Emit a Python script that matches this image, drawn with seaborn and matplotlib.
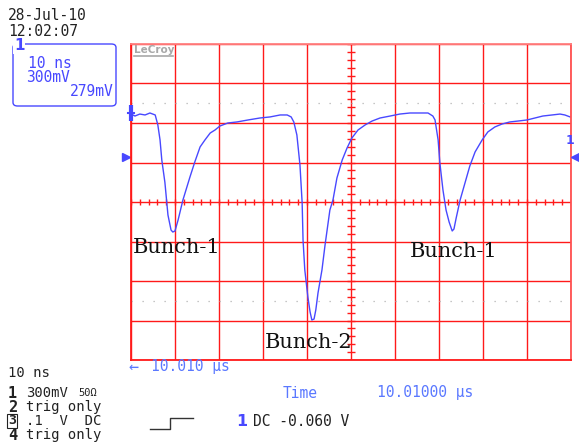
import numpy as np
import pandas as pd
import matplotlib
matplotlib.use("Agg")
import matplotlib.pyplot as plt
from matplotlib.patches import FancyBboxPatch
from matplotlib.lines import Line2D
import seaborn as sns

# ---------------- data (time in ns, amplitude in mV) ----------------
time_ns = [0.0, 0.9, 2.0, 3.2, 4.3, 5.5, 6.1, 6.6, 7.0, 7.7, 8.4, 9.1, 9.5, 10.0,
           10.7, 11.8, 13.4, 14.5, 15.7, 16.8, 18.0, 19.1, 20.2, 22.0, 24.1, 26.6,
           29.3, 31.6, 33.9, 35.5, 36.4, 37.0, 37.7, 38.4, 38.9, 39.1, 39.5, 40.2,
           40.7, 41.1, 41.6, 42.0, 42.5, 43.4, 44.1, 45.2, 45.9, 46.8, 48.0, 49.1,
           50.2, 51.6, 53.2, 54.8, 56.6, 58.9, 61.1, 63.4, 65.7, 67.5, 68.6, 69.1,
           69.8, 70.2, 70.9, 71.6, 72.3, 73.0, 73.4, 73.9, 74.8, 75.9, 77.0, 78.2,
           79.8, 81.1, 82.7, 84.3, 86.1, 88.0, 90.0, 91.8, 93.6, 95.7, 97.5, 98.6,
           99.8]
volt_mV = [668, 653, 668, 661, 676, 661, 585, 471, 319, 150, -99, -213, -228, -220,
           -137, 15, 190, 304, 418, 471, 524, 547, 577, 600, 608, 623,
           638, 646, 661, 661, 646, 608, 509, 281, -8, -289, -516, -722,
           -835, -896, -889, -820, -691, -516, -327, -61, 15, 182, 319, 410,
           486, 547, 585, 615, 638, 653, 668, 676, 676, 676, 653, 623,
           471, 296, 91, -61, -152, -220, -205, -122, 15, 144, 273, 380,
           471, 532, 570, 592, 608, 615, 623, 638, 653, 661, 668, 661,
           646]

labels = ["Bunch-1", "Bunch-2", "Bunch-1"]
label_t = [0.5, 30.5, 63.3]
label_v = [-345, -1065, -375]

df = pd.DataFrame({"t": time_ns, "v": volt_mV})

# ---------------- figure ----------------
W, H = 579, 443
fig = plt.figure(figsize=(W / 100, H / 100), dpi=100)
fig.patch.set_facecolor("white")
ax = fig.add_axes([131 / W, (H - 360) / H, 440 / W, 316 / H])
ax.set_facecolor("white")

RED = "#ff1a1a"
BLUE = "#4848ff"
LBLUE = "#5a78ff"
GRAY = "#b4b4b4"

ax.set_xlim(0, 100)
ax.set_ylim(-1200, 1200)
ax.set_xticks(np.arange(0, 101, 10))
ax.set_yticks(np.arange(-1200, 1201, 300))
ax.tick_params(length=0, labelbottom=False, labelleft=False)
ax.grid(True, color=RED, lw=1.0)
for s in ax.spines.values():
    s.set_color(RED)
    s.set_linewidth(1.3)
ax.spines["top"].set_color("#ff8080")
ax.spines["right"].set_color("#ff5050")

# center graticule tick marks
tx = np.arange(0, 100.01, 2)
ax.vlines(tx, -23, 23, color=RED, lw=1.0)
ty = np.arange(-1200, 1200.01, 60)
ax.hlines(ty, 49.2, 50.8, color=RED, lw=1.0)

# gray dotted cursor lines
for yv in (750, -750):
    ax.plot([0, 100], [yv, yv], color=GRAY, lw=0.9, ls=(0, (1, 7.8)))

# trace
sns.lineplot(data=df, x="t", y="v", ax=ax, color=BLUE, lw=1.0,
             estimator=None, sort=False, legend=False)
ax.set_xlabel("")
ax.set_ylabel("")

for t, v, lab in zip(label_t, label_v, labels):
    ax.text(t, v, lab, family="DejaVu Serif", fontsize=15, color="#111111",
            va="center", ha="left", zorder=5)

# level marker at left edge of trace
ax.plot([0], [676], marker="|", ms=11, mew=3, color=BLUE, clip_on=False, zorder=6)
ax.plot([-0.6, 0.6], [676, 676], color=BLUE, lw=1.5, clip_on=False, zorder=6)

# LeCroy logo
fig.text(134 / W, 1 - 50 / H, "LeCroy", family="DejaVu Sans", fontsize=7.5,
         fontweight="bold", color="#a8a8a8", va="center", ha="left")
fig.add_artist(Line2D([134 / W, 173 / W], [1 - 56 / H, 1 - 56 / H],
                      color="#a8a8a8", lw=1.2))

MONO = "DejaVu Sans Mono"


def ftxt(x, y, s, color="#222222", size=10.5, ha="left", weight="normal"):
    fig.text(x / W, 1 - y / H, s, family=MONO, fontsize=size, color=color,
             ha=ha, va="center", fontweight=weight)


# top-left
ftxt(8, 16, "28-Jul-10")
ftxt(8, 31, "12:02:07")
box = FancyBboxPatch((13 / W, 1 - 106 / H), 103 / W, 62 / H,
                     boxstyle="round,pad=0,rounding_size=0.008",
                     transform=fig.transFigure, fill=False, ec=BLUE, lw=1.0)
fig.add_artist(box)
fig.text(14 / W, 1 - 46 / H, "1", family="DejaVu Sans", fontsize=11,
         fontweight="bold", color=BLUE, va="center", ha="left",
         bbox=dict(fc="white", ec="none", pad=0.5))
ftxt(28, 63, "10 ns", color=BLUE)
ftxt(26, 77, "300mV", color=BLUE)
ftxt(114, 91, "279mV", color=BLUE, ha="right")

# side markers
ax.plot([-1.2], [342], marker=">", ms=6, color=BLUE, clip_on=False)
fig.text(566 / W, 1 - 140 / H, "1", family="DejaVu Sans", fontsize=9,
         fontweight="bold", color=BLUE, va="center", ha="left")
fig.add_artist(Line2D([575 / W], [1 - 157 / H], marker="<", ms=6, color=BLUE))

# bottom
ftxt(128, 367, "\u2190", color=LBLUE, size=12)
ftxt(151, 367, "10.010 \u03bcs", color=LBLUE)
ftxt(8, 373, "10 ns", size=10)
ftxt(8, 393, "1", size=11, weight="bold")
ftxt(26, 393, "300mV", size=10)
ftxt(78, 393, "50\u03a9", size=7.5)
ftxt(8, 407, "2", size=11, weight="bold")
ftxt(26, 407, "trig only", size=10)
fig.text(8 / W, 1 - 421 / H, "3", family=MONO, fontsize=9.5, fontweight="bold",
         va="center", ha="left", color="#222222",
         bbox=dict(fc="white", ec="#222222", lw=0.8, pad=0.5))
ftxt(26, 421, ".1  V  DC", size=10)
ftxt(8, 435, "4", size=11, weight="bold")
ftxt(26, 435, "trig only", size=10)
ftxt(283, 393, "Time", color=LBLUE)
ftxt(377, 393, "10.01000 \u03bcs", color=LBLUE)
fig.add_artist(Line2D([150 / W, 170 / W, 170 / W, 193 / W],
                      [1 - 429 / H, 1 - 429 / H, 1 - 418 / H, 1 - 418 / H],
                      color="#333333", lw=1.0))
fig.text(236 / W, 1 - 421 / H, "1", family="DejaVu Sans", fontsize=11.5,
         fontweight="bold", color=BLUE, va="center", ha="left")
ftxt(253, 421, "DC -0.060 V")

fig.savefig("out.png", dpi=100, facecolor="white")
